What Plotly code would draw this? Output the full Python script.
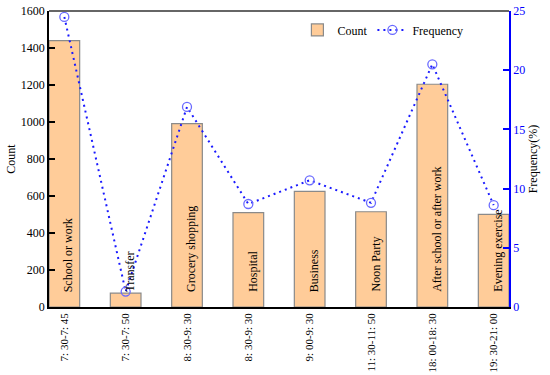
import plotly.graph_objects as go

time_labels = ["7: 30-7: 45", "7: 30-7: 50", "8: 30-9: 30", "8: 30-9: 30",
               "9: 00-9: 30", "11: 30-11: 50", "18: 00-18: 30", "19: 30-21: 00"]
activities = ["School or work", "Transfer", "Grocery shopping", "Hospital",
              "Business", "Noon Party", "After school or after work", "Evening exercise"]
counts = [1440, 75, 991, 510, 625, 515, 1204, 501]
frequency = [24.5, 1.3, 16.9, 8.7, 10.7, 8.8, 20.5, 8.6]

FONT = "Liberation Serif"
xs = list(range(len(time_labels)))

fig = go.Figure()
fig.add_trace(go.Bar(
    x=xs, y=counts, name="Count", width=0.5,
    marker=dict(color="#FFCC99", line=dict(color="#8a8a8a", width=1.2)),
))
fig.add_trace(go.Scatter(
    x=xs, y=frequency, name="Frequency", yaxis="y2",
    mode="lines+markers",
    line=dict(color="#1a1aff", dash="2px,4px", width=2),
    marker=dict(symbol="circle-open", size=9, color="#6a6aff", line=dict(width=1.3)),
))

for i, a in enumerate(activities):
    fig.add_annotation(x=xs[i], y=0, xref="x", yref="y", text=a, textangle=-90,
                       showarrow=False, xanchor="center", yanchor="bottom",
                       yshift=13, xshift=4,
                       font=dict(family=FONT, size=12, color="black"))

fig.add_shape(type="line", xref="paper", yref="paper", x0=0, x1=1, y0=1, y1=1,
              line=dict(color="#666666", width=2))

fig.update_layout(
    width=550, height=375,
    margin=dict(l=49, r=41, t=11, b=68),
    paper_bgcolor="white", plot_bgcolor="white",
    font=dict(family=FONT, size=11, color="black"),
    showlegend=True,
    legend=dict(orientation="h", x=0.54, y=0.985, xanchor="left", yanchor="top",
                bgcolor="rgba(0,0,0,0)", font=dict(family=FONT, size=12)),
    xaxis=dict(range=[-0.25, 7.25], tickmode="array", tickvals=xs, ticktext=time_labels,
               tickangle=-90, showgrid=False, zeroline=False, showline=True,
               linecolor="black", linewidth=1.5, ticks="", automargin=False,
               tickfont=dict(family=FONT, size=11)),
    yaxis=dict(range=[0, 1600], dtick=200, showgrid=False, zeroline=False,
               showline=True, linecolor="black", linewidth=1.5, automargin=False,
               ticks="inside", ticklen=6, tickwidth=1.5, tickcolor="black",
               title=dict(text="Count", font=dict(family=FONT, size=12), standoff=3),
               tickfont=dict(family=FONT, size=12, color="black")),
    yaxis2=dict(range=[0, 25], dtick=5, overlaying="y", side="right",
                showgrid=False, zeroline=False, showline=True, automargin=False,
                linecolor="blue", linewidth=1.5,
                ticks="inside", ticklen=6, tickwidth=1.5, tickcolor="blue",
                tickfont=dict(family=FONT, size=12, color="blue"),
                title=dict(text="Frequency(%)", font=dict(family=FONT, size=12, color="black"), standoff=4)),
)

# remove the default 8px page margin so the figure fills the 550x375 window
fig.write_html("out.html", config={"displayModeBar": False},
               post_script="document.body.style.margin='0';")
